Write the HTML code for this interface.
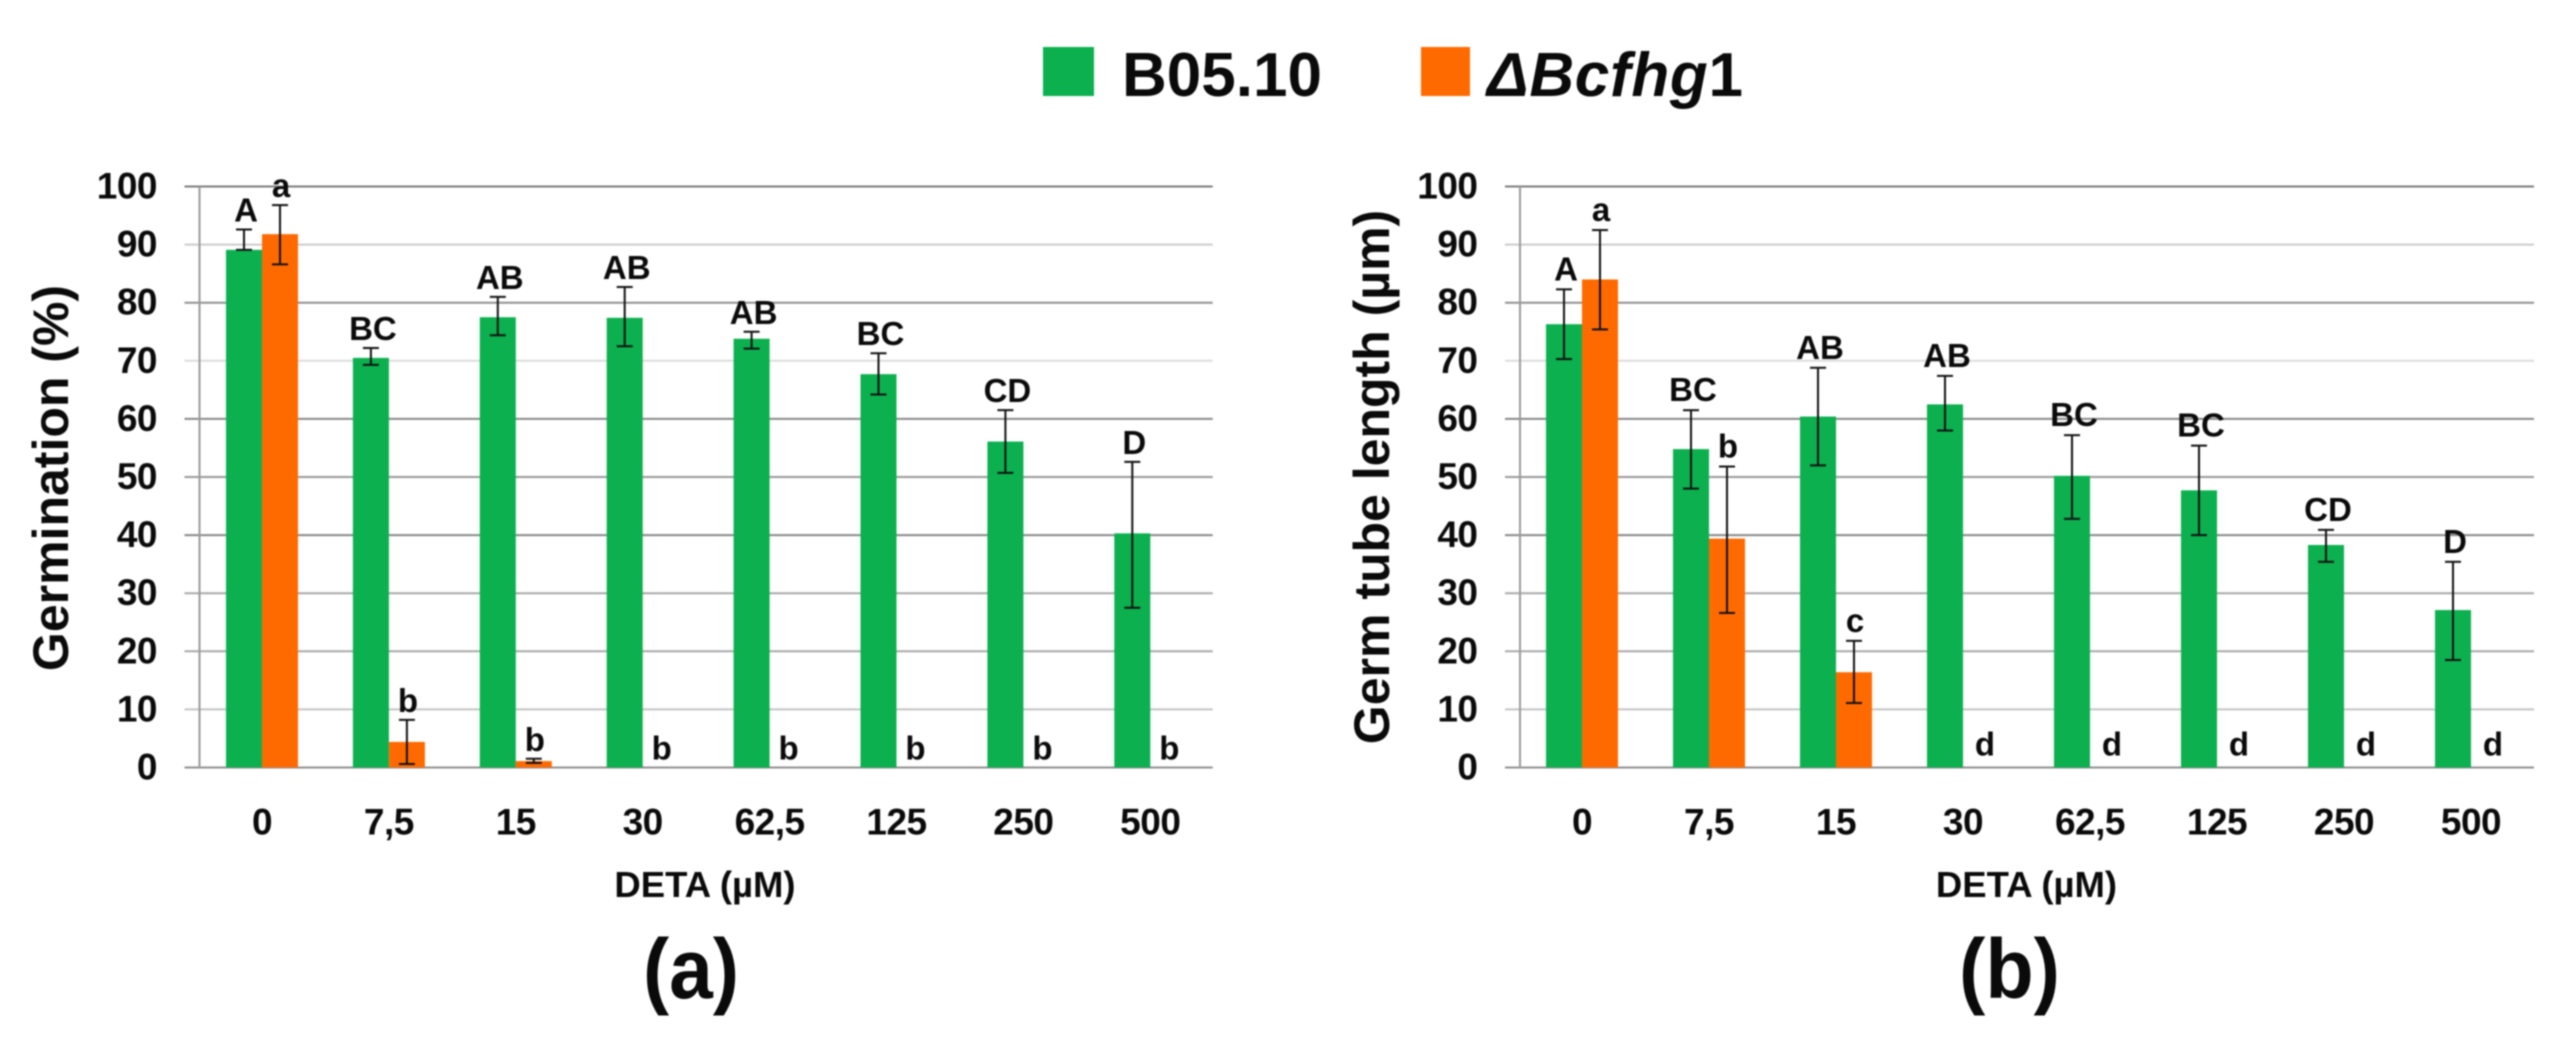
<!DOCTYPE html>
<html lang="en">
<head>
<meta charset="utf-8">
<title>Germination and germ tube length</title>
<style>
  html, body { margin: 0; padding: 0; background: #fff; width: 2566px; height: 1039px; overflow: hidden; }
  svg { display: block; filter: blur(0.7px); }
  text { font-family: "Liberation Sans", sans-serif; font-weight: bold; fill: #0a0a0a; }
  .tick { font-size: 37px; letter-spacing: -0.5px; }
  .letter { font-size: 33px; }
  .axis-title { font-size: 50px; }
  .x-title { font-size: 36.5px; }
  .panel { font-size: 84px; }
  .legend { font-size: 62px; }
</style>
</head>
<body>
<svg id="figure" xmlns="http://www.w3.org/2000/svg" width="2566" height="1039" viewBox="0 0 2566 1039">
  <rect width="2566" height="1039" fill="#ffffff"/>
  <g>
    <rect x="1043" y="47" width="51" height="49" fill="#0cb04f"/>
    <text class="legend" x="1122" y="96">B05.10</text>
    <rect x="1421" y="47" width="49" height="49" fill="#ff6a00"/>
    <text class="legend" x="1487" y="96" letter-spacing="0.7"><tspan font-style="italic">ΔBcfhg</tspan>1</text>
  </g>
  <g id="chart-a"></g>
  <g id="chart-b"></g>
  <text class="panel" x="643" y="998" textLength="96" lengthAdjust="spacingAndGlyphs">(a)</text>
  <text class="panel" x="1959" y="998" textLength="101" lengthAdjust="spacingAndGlyphs">(b)</text>
</svg>
<script>
const categories = ["0", "7,5", "15", "30", "62,5", "125", "250", "500"];
const yTicks = [0, 10, 20, 30, 40, 50, 60, 70, 80, 90, 100];

const germGreen      = [89.1, 70.5, 77.5, 77.4, 73.8, 67.7, 56.1, 40.3];
const germGreenHigh  = [92.6, 72.2, 81.0, 82.7, 75.0, 71.3, 61.5, 52.6];
const germGreenLow   = [89.1, 69.3, 74.4, 72.5, 72.1, 64.2, 50.7, 27.5];
const germOrange     = [91.8, 4.4, 1.1, 0, 0, 0, 0, 0];
const germOrangeHigh = [96.8, 8.2, 1.5, 0, 0, 0, 0, 0];
const germOrangeLow  = [86.6, 0.6, 0.8, 0, 0, 0, 0, 0];
const germGreenLetters  = ["A", "BC", "AB", "AB", "AB", "BC", "CD", "D"];
const germOrangeLetters = ["a", "b", "b", "b", "b", "b", "b", "b"];

const tubeGreen      = [76.3, 54.8, 60.4, 62.5, 50.2, 47.7, 38.3, 27.1];
const tubeGreenHigh  = [82.3, 61.5, 68.8, 67.4, 57.2, 55.4, 40.9, 35.4];
const tubeGreenLow   = [70.3, 48.0, 52.0, 58.0, 42.8, 40.0, 35.4, 18.5];
const tubeOrange     = [84.0, 39.4, 16.4, 0, 0, 0, 0, 0];
const tubeOrangeHigh = [92.5, 51.8, 21.8, 0, 0, 0, 0, 0];
const tubeOrangeLow  = [75.4, 26.6, 11.1, 0, 0, 0, 0, 0];
const tubeGreenLetters  = ["A", "BC", "AB", "AB", "BC", "BC", "CD", "D"];
const tubeOrangeLetters = ["a", "b", "c", "d", "d", "d", "d", "d"];

const gridShades = ["#8f8f8f", "#c4c4c4", "#a8a8a8", "#a8a8a8", "#888888", "#999999", "#888888", "#dcdcdc", "#909090", "#cccccc", "#7c7c7c"];

const GREEN = "#0cb04f";
const ORANGE = "#ff6a00";
const SVG_NS = "http://www.w3.org/2000/svg";
const Y0 = 767.5;
const Y_SCALE = 5.81;

function yPos(v) { return Y0 - v * Y_SCALE; }

function mk(parent, tag, attrs, text) {
  const el = document.createElementNS(SVG_NS, tag);
  for (const k in attrs) el.setAttribute(k, attrs[k]);
  if (text !== undefined) el.textContent = text;
  parent.appendChild(el);
  return el;
}

function drawErr(g, cx, hi, lo, name) {
  const stem = mk(g, "line", { x1: cx, x2: cx, y1: yPos(hi), y2: yPos(lo), stroke: "#111", "stroke-width": 2 });
  
  
  const capTop = mk(g, "line", { x1: cx - 8, x2: cx + 8, y1: yPos(hi), y2: yPos(hi), stroke: "#111", "stroke-width": 2 });
  
  
  if (lo !== hi) {
    const capLow = mk(g, "line", { x1: cx - 8, x2: cx + 8, y1: yPos(lo), y2: yPos(lo), stroke: "#111", "stroke-width": 2 });
    
    
  }
}

function drawChart(ch) {
  const g = document.getElementById(ch.id);
  const gridLeft = ch.axisX - 15;
  const gridRight = ch.axisX + ch.step * categories.length - 2;

  yTicks.forEach(function (t, i) {
    const line = mk(g, "line", { x1: gridLeft, x2: gridRight, y1: yPos(t), y2: yPos(t), stroke: gridShades[i], "stroke-width": 2 });
    
    
    const label = mk(g, "text", { class: "tick", x: ch.axisX - 42.5, y: yPos(t) + 12, "text-anchor": "end" }, String(t));
    
    
  });

  const axis = mk(g, "line", { x1: ch.axisX, x2: ch.axisX, y1: yPos(100), y2: yPos(0), stroke: "#9a9a9a", "stroke-width": 2 });
  
  

  categories.forEach(function (c, i) {
    const gx = ch.axisX + ch.barInset + ch.step * i;
    const ox = gx + 36;
    const gh = ch.green[i] * Y_SCALE;
    const greenBar = mk(g, "rect", { x: gx, y: yPos(ch.green[i]), width: 36, height: gh, fill: GREEN });
    
    
    if (ch.orange[i] > 0) {
      const orangeBar = mk(g, "rect", { x: ox, y: yPos(ch.orange[i]), width: 36, height: ch.orange[i] * Y_SCALE, fill: ORANGE });
      
      
    }
    const tick = mk(g, "text", { class: "tick", x: gx + 36, y: 834.5, "text-anchor": "middle" }, c);
    
    
  });

  categories.forEach(function (c, i) {
    const gx = ch.axisX + ch.barInset + ch.step * i;
    const ox = gx + 36;
    drawErr(g, gx + 18, ch.greenHigh[i], ch.greenLow[i], 'b0510-' + c);
    if (ch.orange[i] > 0) drawErr(g, ox + 18, ch.orangeHigh[i], ch.orangeLow[i], 'bcfhg1-' + c);

    const gl = mk(g, "text", { class: "letter", x: gx + 20, y: yPos(ch.greenHigh[i]) - ch.gap, "text-anchor": "middle" }, ch.greenLetters[i]);
    
    

    const hasOrange = ch.orange[i] > 0;
    const ol = mk(g, "text", {
      class: "letter",
      x: ox + 18 + (hasOrange ? 1 : ch.zeroShift),
      y: yPos(ch.orangeHigh[i]) - (hasOrange ? ch.gap : ch.zeroGap),
      "text-anchor": "middle"
    }, ch.orangeLetters[i]);
    
    
  });

  const yTitle = mk(g, "text", {
    class: "axis-title",
    transform: "translate(" + ch.yTitleX + "," + ch.yTitleY + ") rotate(-90)",
    "text-anchor": "middle"
  }, ch.yTitle);
  
  

  const xTitle = mk(g, "text", { class: "x-title", x: ch.xTitleX, y: 897, "text-anchor": "middle" }, "DETA (µM)");
  
  
}

drawChart({
  id: "chart-a", axisX: 199.5, step: 126.9, barInset: 26.5,
  green: germGreen, greenHigh: germGreenHigh, greenLow: germGreenLow,
  orange: germOrange, orangeHigh: germOrangeHigh, orangeLow: germOrangeLow,
  greenLetters: germGreenLetters, orangeLetters: germOrangeLetters,
  gap: 8, zeroGap: 8, zeroShift: 1,
  yTitle: "Germination (%)", yTitleX: 68, yTitleY: 478, xTitleX: 705
});

drawChart({
  id: "chart-b", axisX: 1520, step: 127, barInset: 26,
  green: tubeGreen, greenHigh: tubeGreenHigh, greenLow: tubeGreenLow,
  orange: tubeOrange, orangeHigh: tubeOrangeHigh, orangeLow: tubeOrangeLow,
  greenLetters: tubeGreenLetters, orangeLetters: tubeOrangeLetters,
  gap: 9, zeroGap: 12, zeroShift: 4,
  yTitle: "Germ tube length (µm)", yTitleX: 1389, yTitleY: 477, xTitleX: 2026.5
});
</script>
</body>
</html>
